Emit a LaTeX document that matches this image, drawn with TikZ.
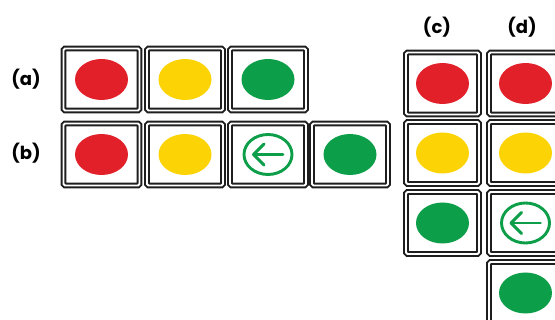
\documentclass[tikz,border=0pt]{standalone}
\usepackage{fontspec}
\setmainfont{Liberation Sans}
\newfontfamily\lblfont{Poppins}
\usetikzlibrary{shapes.geometric}
\definecolor{lred}{HTML}{E2202A}
\definecolor{lyel}{HTML}{FCD405}
\definecolor{lgrn}{HTML}{0C9E48}
\definecolor{frame}{HTML}{1E1E1E}
\tikzset{
  lampbox/.style={draw=frame, line width=1.9pt, double=white, double distance=1.9pt,
    rounded corners=1.5pt, fill=white, minimum width=#1, minimum height=62pt, inner sep=0pt},
  lampbox/.default=76pt,
  lamp/.style={ellipse, fill=#1, minimum width=53pt, minimum height=41pt, inner sep=0pt},
  ring/.style={ellipse, draw=lgrn, line width=2.9pt, minimum width=48pt, minimum height=40pt, inner sep=0pt},
  arw/.style={draw=lgrn, line width=2.9pt, line cap=round, line join=round},
  lbl/.style={font=\lblfont\bfseries\fontsize{18}{20}\selectfont, inner sep=0pt}
}
\begin{document}
\begin{tikzpicture}[x=1pt,y=-1pt]
\useasboundingbox (0,0) rectangle (555,320);
\clip (0,0) rectangle (555,320);
% labels
\node[lbl] (la) at (26,79) {(a)};
\node[lbl] (lb) at (26,153) {(b)};
\node[lbl] (lc) at (437,27) {(c)};
\node[lbl] (ld) at (522,27) {(d)};
% row (a)
\node[lampbox] (a1) at (101.5,79.5) {};
\node[lampbox] (a2) at (185,79.5) {};
\node[lampbox] (a3) at (268,79.5) {};
\node[lamp=lred] (a1l) at (a1) {};
\node[lamp=lyel] (a2l) at (a2) {};
\node[lamp=lgrn] (a3l) at (a3) {};
% row (b)
\node[lampbox] (b1) at (101.5,154.5) {};
\node[lampbox] (b2) at (185,154.5) {};
\node[lampbox] (b3) at (268,154.5) {};
\node[lampbox] (b4) at (350,154.5) {};
\node[lamp=lred] (b1l) at (b1) {};
\node[lamp=lyel] (b2l) at (b2) {};
\node[ring] (b3l) at (b3) {};
\node[lamp=lgrn] (b4l) at (b4) {};
\coordinate (b3t) at ([xshift=-14.5pt]b3.center);
\draw[arw] ([xshift=15pt]b3.center) -- (b3t);
\draw[arw] ([xshift=-4pt,yshift=10.5pt]b3.center) -- (b3t) -- ([xshift=-4pt,yshift=-10.5pt]b3.center);
% column (c)
\node[lampbox=73pt] (c1) at (442.5,83.5) {};
\node[lampbox=73pt] (c2) at (442.5,153) {};
\node[lampbox=73pt] (c3) at (442.5,223) {};
\node[lamp=lred] (c1l) at (c1) {};
\node[lamp=lyel] (c2l) at (c2) {};
\node[lamp=lgrn] (c3l) at (c3) {};
% column (d)
\node[lampbox=73pt] (d1) at (525.5,83.5) {};
\node[lampbox=73pt] (d2) at (525.5,153) {};
\node[lampbox=73pt] (d3) at (525.5,223) {};
\node[lampbox=73pt] (d4) at (525.5,293) {};
\node[lamp=lred] (d1l) at (d1) {};
\node[lamp=lyel] (d2l) at (d2) {};
\node[ring] (d3l) at (d3) {};
\node[lamp=lgrn] (d4l) at (d4) {};
\coordinate (d3t) at ([xshift=-14.5pt]d3.center);
\draw[arw] ([xshift=15pt]d3.center) -- (d3t);
\draw[arw] ([xshift=-4pt,yshift=10.5pt]d3.center) -- (d3t) -- ([xshift=-4pt,yshift=-10.5pt]d3.center);
\end{tikzpicture}
\end{document}
